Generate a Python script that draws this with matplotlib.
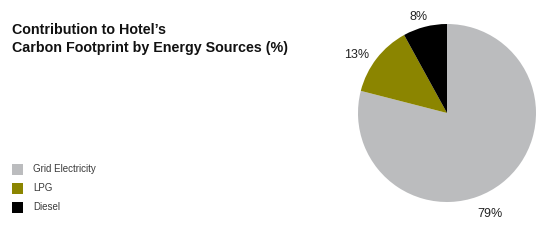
import matplotlib
matplotlib.use("Agg")
import matplotlib.pyplot as plt
from matplotlib.patches import Rectangle

plt.rcParams['font.family'] = ['Liberation Sans', 'DejaVu Sans']

categories = ["Grid Electricity", "LPG", "Diesel"]
values = [79, 13, 8]
colors = ["#bbbcbe", "#8b8500", "#000000"]
title = "Contribution to Hotel\u2019s\nCarbon Footprint by Energy Sources (%)"

fig = plt.figure(figsize=(5.47, 2.43), dpi=100)
fig.patch.set_facecolor("white")

fig.text(12/547, 1 - 52/243, title, fontsize=10.3, fontweight="bold",
         va="baseline", ha="left", color="#111111", linespacing=1.36)

ax = fig.add_axes([(447-89)/547, (130-89)/243, 178/547, 178/243])
wedges, _ = ax.pie(values, colors=colors, startangle=90, counterclock=False,
                   radius=1.0, wedgeprops=dict(linewidth=0))
ax.set_xlim(-1, 1)
ax.set_ylim(-1, 1)
ax.set_aspect("equal")
ax.axis("off")

# label positions (data coords of pie axes)
label_pos = [(0.48, -1.13), (-1.01, 0.65), (-0.32, 1.08)]
for v, (x, y) in zip(values, label_pos):
    ax.text(x, y, f"{v}%", ha="center", va="center", fontsize=9, color="#222222")

# legend
rows_y = [169, 188, 207]
for cat, col, yy in zip(categories, colors, rows_y):
    fig.patches.append(Rectangle((12/547, 1 - (yy+5.5)/243), 11/547, 11/243,
                                 transform=fig.transFigure, facecolor=col,
                                 edgecolor="none", figure=fig))
    fig.text(33/547, 1 - yy/243, cat, fontsize=7, va="center", ha="left",
             color="#3a3a3a")

fig.savefig("out.png", dpi=100)
